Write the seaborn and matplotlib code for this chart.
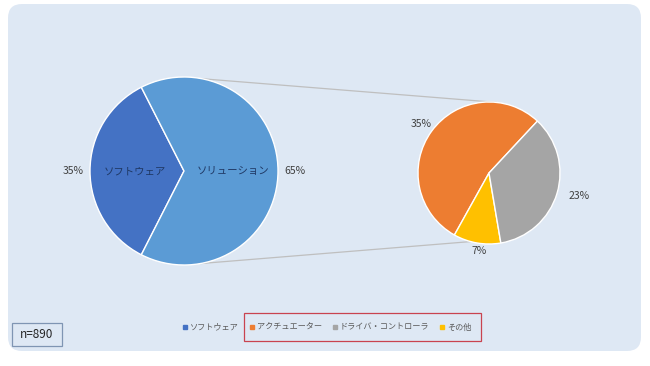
import numpy as np
import matplotlib
matplotlib.use("Agg")
import matplotlib.pyplot as plt
from matplotlib.patches import FancyBboxPatch, Rectangle
from matplotlib.lines import Line2D
import seaborn as sns

# ---- data ----
main_labels = ["ソフトウェア", "ソリューション"]
main_values = [35, 65]
sub_labels = ["アクチュエーター", "その他", "ドライバ・コントローラ"]
sub_values = [35, 7, 23]
legend_labels = ["ソフトウェア", "アクチュエーター", "ドライバ・コントローラ", "その他"]
sample_note = "n=890"

main_colors = ["#4472C4", "#5B9BD5"]
sub_colors = ["#ED7D31", "#FFC000", "#A5A5A5"]
legend_colors = ["#4472C4", "#ED7D31", "#A5A5A5", "#FFC000"]

sns.set_style("white")
plt.rcParams["font.family"] = ["Noto Sans CJK JP", "DejaVu Sans"]

W, H = 650, 366
fig = plt.figure(figsize=(W / 100, H / 100), dpi=100)
fig.patch.set_facecolor("white")
ax = fig.add_axes([0, 0, 1, 1])
ax.set_facecolor("none")

bg = FancyBboxPatch((8, H - 351), 633, 347, boxstyle="round,pad=0,rounding_size=14",
                    fc="#DEE8F4", ec="none", transform=ax.transData, zorder=0)
ax.add_patch(bg)

txt_color = "#404040"

# main pie
c1 = (184, H - 171)
r1 = 94
w1, t1, a1 = ax.pie(main_values, labels=main_labels, colors=main_colors,
                    startangle=117, counterclock=True, center=c1, radius=r1,
                    labeldistance=0.52, pctdistance=1.18,
                    autopct=lambda p: f"{p * sum(main_values) / 100:.0f}%",
                    wedgeprops=dict(edgecolor="white", linewidth=1.0),
                    textprops=dict(fontsize=7.5, color=txt_color))
for t in t1:
    t.set_ha("center")
    t.set_color("#1f3864")

# sub pie
c2 = (489, H - 173)
r2 = 71
w2, t2, a2 = ax.pie(sub_values, colors=sub_colors,
                    startangle=47, counterclock=True, center=c2, radius=r2,
                    pctdistance=1.18,
                    autopct=lambda p: f"{p * sum(sub_values) / 100:.0f}%",
                    wedgeprops=dict(edgecolor="white", linewidth=1.0),
                    textprops=dict(fontsize=7.5, color=txt_color))
# nudge labels like the reference
a2[2].set_position((c2[0] + 1.31 * r2 * np.cos(np.deg2rad(-14)),
                    c2[1] + 1.31 * r2 * np.sin(np.deg2rad(-14))))
a2[1].set_position((c2[0] + 1.1 * r2 * np.cos(np.deg2rad(263)),
                    c2[1] + 1.1 * r2 * np.sin(np.deg2rad(263))))

# connector lines
def pt(c, r, ang):
    return c[0] + r * np.cos(np.deg2rad(ang)), c[1] + r * np.sin(np.deg2rad(ang))

for a_l, a_r in [(79, 84), (-80, -105)]:
    p1 = pt(c1, r1, a_l)
    p2 = pt(c2, r2, a_r)
    ax.plot([p1[0], p2[0]], [p1[1], p2[1]], color="#BFBFBF", lw=0.9, zorder=0.5)

ax.set_xlim(0, W)
ax.set_ylim(0, H)
ax.set_aspect("equal")
ax.axis("off")

# legend
handles = [Line2D([0], [0], marker="s", ls="none", markersize=3.3,
                  markerfacecolor=c, markeredgecolor=c) for c in legend_colors]
leg = ax.legend(handles, legend_labels, loc="center", bbox_to_anchor=(0.5 + 2 / W, 1 - 327 / H),
                ncol=4, frameon=False, fontsize=5.9, handlelength=0.6, handletextpad=0.3,
                columnspacing=1.3, bbox_transform=ax.transAxes)
for t in leg.get_texts():
    t.set_color("#595959")

# red highlight box around legend items
ax.add_patch(Rectangle((244, H - 341), 237, 28, fill=False, ec="#C9434F", lw=0.9, zorder=3))

# sample note box
ax.add_patch(Rectangle((12, H - 346), 50, 23, fc="#DEE8F4", ec="#7F95B3", lw=0.9, zorder=3))
ax.text(37, H - 334.5, sample_note, ha="center", va="center", fontsize=8.5,
        color="#262626", zorder=4)

fig.savefig("out.png", dpi=100, facecolor="white")
